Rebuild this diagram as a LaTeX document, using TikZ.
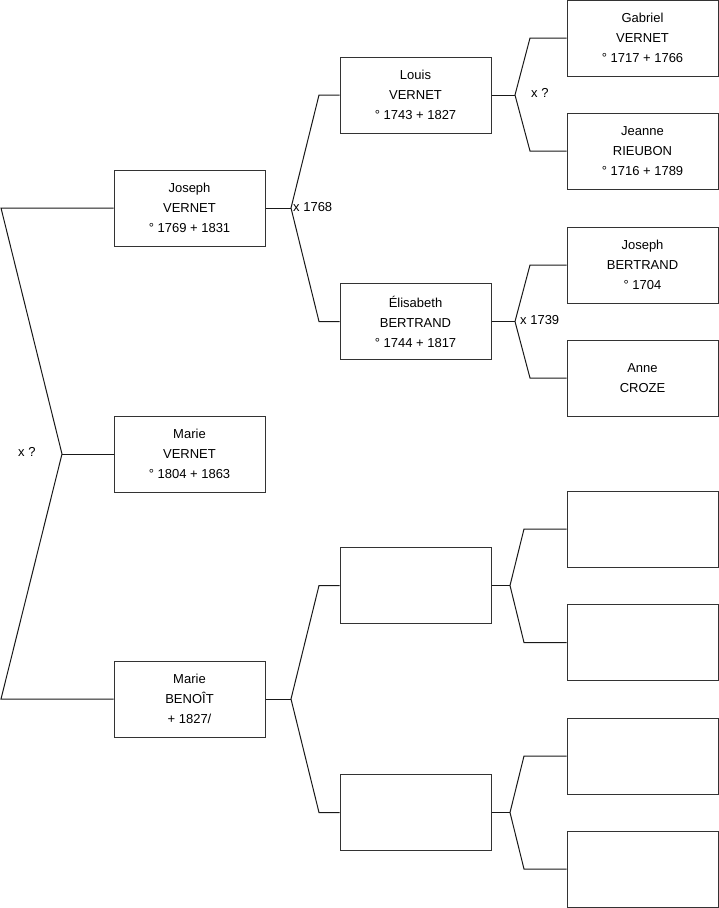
\documentclass[tikz,border=0pt]{standalone}
\usepackage{fontspec}
\setmainfont{Liberation Sans}
\begin{document}
\begin{tikzpicture}[x=1pt,y=-1pt,
  box/.style={draw=black!80,line width=1pt,fill=white,minimum width=151pt,minimum height=76pt,inner sep=0pt,align=center,font=\fontsize{13}{20}\selectfont},
  conn/.style={draw=black!90,line width=1pt},
  lbl/.style={font=\fontsize{13}{16}\selectfont,inner sep=0pt}]
\useasboundingbox (0,0) rectangle (719,908);
% generation 1
\node[box] (jv) at (189.5,208) {Joseph\\VERNET\\° 1769 + 1831};
\node[box] (mv) at (189.5,454) {Marie\\VERNET\\° 1804 + 1863};
\node[box] (mb) at (189.5,699) {Marie\\BENOÎT\\ + 1827/};
% generation 2
\node[box] (lv) at (415.5,95) {Louis\\VERNET\\° 1743 + 1827};
\node[box] (eb) at (415.5,321.5) {Élisabeth\\BERTRAND\\° 1744 + 1817};
\node[box] (e1) at (415.5,585.5) {};
\node[box] (e2) at (415.5,812.5) {};
% generation 3
\node[box] (gv) at (642.5,38) {Gabriel\\VERNET\\° 1717 + 1766};
\node[box] (jr) at (642.5,151) {Jeanne\\RIEUBON\\° 1716 + 1789};
\node[box] (jb) at (642.5,265) {Joseph\\BERTRAND\\° 1704};
\node[box] (ac) at (642.5,378) {Anne\\CROZE};
\node[box] (f1) at (642.5,529) {};
\node[box] (f2) at (642.5,642.5) {};
\node[box] (f3) at (642.5,756) {};
\node[box] (f4) at (642.5,869) {};
% left bracket
\coordinate (la) at (1,208);
\coordinate (lb) at (62,454);
\coordinate (lc) at (1,699);
\draw[conn] (jv.west) -- (la) -- (lb) -- (lc) -- (mb.west);
\draw[conn] (lb) -- (mv.west);
\node[lbl,anchor=west] (l1) at (18,452) {x ?};
% Joseph VERNET parents
\coordinate (j0) at (291,208);
\coordinate (j1) at (319,95);
\coordinate (j2) at (319,321.5);
\draw[conn] (jv.east) -- (j0);
\draw[conn] (lv.west) -- (j1) -- (j0) -- (j2) -- (eb.west);
\node[lbl,anchor=west] (l2) at (293,207) {x 1768};
% Marie BENOIT parents
\coordinate (m0) at (291,699);
\coordinate (m1) at (319,585.5);
\coordinate (m2) at (319,812.5);
\draw[conn] (mb.east) -- (m0);
\draw[conn] (e1.west) -- (m1) -- (m0) -- (m2) -- (e2.west);
% Louis parents
\coordinate (a0) at (515,95);
\coordinate (a1) at (530,38);
\coordinate (a2) at (530,151);
\draw[conn] (lv.east) -- (a0);
\draw[conn] (gv.west) -- (a1) -- (a0) -- (a2) -- (jr.west);
\node[lbl,anchor=west] (l3) at (531,93) {x ?};
% Elisabeth parents
\coordinate (b0) at (515,321.5);
\coordinate (b1) at (530,265);
\coordinate (b2) at (530,378);
\draw[conn] (eb.east) -- (b0);
\draw[conn] (jb.west) -- (b1) -- (b0) -- (b2) -- (ac.west);
\node[lbl,anchor=west] (l4) at (520,320) {x 1739};
% empty box 1 parents
\coordinate (c0) at (510,585.5);
\coordinate (c1) at (524,529);
\coordinate (c2) at (524,642.5);
\draw[conn] (e1.east) -- (c0);
\draw[conn] (f1.west) -- (c1) -- (c0) -- (c2) -- (f2.west);
% empty box 2 parents
\coordinate (d0) at (510,812.5);
\coordinate (d1) at (524,756);
\coordinate (d2) at (524,869);
\draw[conn] (e2.east) -- (d0);
\draw[conn] (f3.west) -- (d1) -- (d0) -- (d2) -- (f4.west);
\end{tikzpicture}
\end{document}
